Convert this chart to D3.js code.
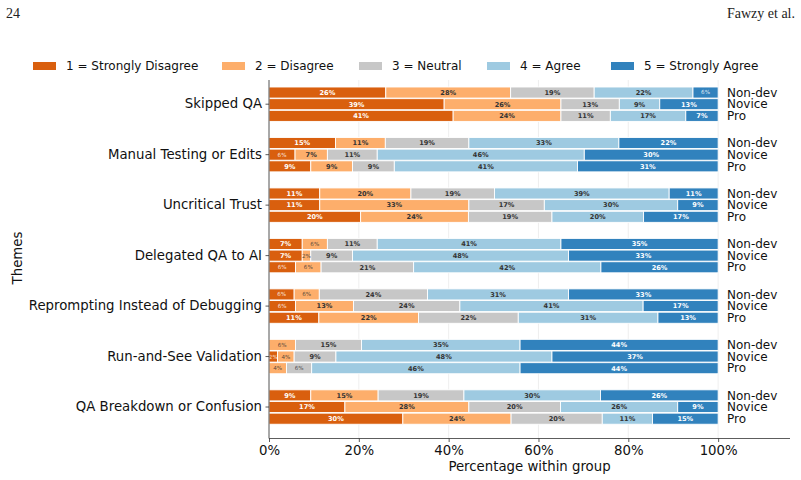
<!DOCTYPE html>
<html>
<head>
<meta charset="utf-8">
<script src="https://cdn.jsdelivr.net/npm/d3@7"></script>
<style>
  body { margin: 0; background: #fff; }
  svg { display: block; }
  text { font-family: "DejaVu Sans", sans-serif; }
</style>
</head>
<body>
<svg id="chart" width="801" height="480"></svg>
<script>
// ---------------- DATA ----------------
const themes = [
  "Skipped QA",
  "Manual Testing or Edits",
  "Uncritical Trust",
  "Delegated QA to AI",
  "Reprompting Instead of Debugging",
  "Run-and-See Validation",
  "QA Breakdown or Confusion"
];
const groups = ["Non-dev", "Novice", "Pro"];
const levels = ["1 = Strongly Disagree", "2 = Disagree", "3 = Neutral", "4 = Agree", "5 = Strongly Agree"];
const levelColors = ["#d95f0e", "#fdae6b", "#c7c7c7", "#9ecae1", "#3182bd"];
const xTicks = [0, 20, 40, 60, 80, 100];

// percentages per theme, per group (Non-dev, Novice, Pro), levels 1..5
const skippedQA = [
  [26.0, 27.8, 18.6, 22.0, 5.6],
  [39.0, 26.0, 13.0, 9.0, 13.0],
  [41.0, 24.0, 11.0, 16.8, 7.2]
];
const manualTesting = [
  [14.8, 11.1, 18.6, 33.4, 22.1],
  [5.8, 7.2, 11.1, 46.1, 29.8],
  [9.3, 9.3, 9.3, 40.8, 31.3]
];
const uncriticalTrust = [
  [11.3, 20.3, 18.6, 38.9, 10.9],
  [11.3, 33.2, 16.8, 29.7, 9.0],
  [20.4, 24.0, 18.6, 20.4, 16.6]
];
const delegatedQA = [
  [7.4, 5.6, 11.1, 40.9, 35.0],
  [7.4, 1.9, 9.3, 48.1, 33.3],
  [5.9, 5.7, 20.6, 41.7, 26.1]
];
const reprompting = [
  [5.6, 5.6, 24.1, 31.4, 33.3],
  [5.9, 12.9, 23.7, 40.8, 16.7],
  [11.1, 22.2, 22.2, 31.1, 13.4]
];
const runAndSee = [
  [0, 5.9, 14.7, 35.3, 44.1],
  [1.9, 3.7, 9.3, 48.1, 37.0],
  [0, 3.9, 5.6, 46.4, 44.1]
];
const qaBreakdown = [
  [9.3, 15.0, 19.1, 30.4, 26.2],
  [16.9, 27.6, 20.4, 26.1, 9.0],
  [29.8, 24.1, 20.3, 11.2, 14.6]
];
const themeValues = [skippedQA, manualTesting, uncriticalTrust, delegatedQA, reprompting, runAndSee, qaBreakdown];

// ---------------- LAYOUT ----------------
const svg = d3.select("#chart");
const plotLeft = 269, plotRight = 790, plotTop = 80, plotBottom = 438.5;
const x = d3.scaleLinear().domain([0, 116]).range([plotLeft, plotRight]);
const step = 50.47, c0 = 104.2;
const y = d3.scaleBand().domain(themes)
  .range([c0 - step / 2, c0 + step * 6 + step / 2]).padding(0);
const inner = d3.scaleBand().domain(groups).range([-17.5, 17.5]).padding(0);
const barH = inner.bandwidth() - 0.6;

// header
const headFont = "'Liberation Serif','DejaVu Serif',serif";
svg.append("text").attr("x", 6).attr("y", 18).attr("font-size", 14)
  .style("font-family", headFont)
  .attr("fill", "#222").text("24");
svg.append("text").attr("x", 795).attr("y", 18).attr("font-size", 14)
  .attr("text-anchor", "end")
  .style("font-family", headFont)
  .attr("fill", "#222").text("Fawzy et al.");

// gridlines
svg.append("g").selectAll("line").data(xTicks).join("line")
  .attr("x1", d => x(d)).attr("x2", d => x(d))
  .attr("y1", plotTop).attr("y2", plotBottom)
  .attr("stroke", "#ebebeb").attr("stroke-width", 0.8);

// bars
const rows = [];
themes.forEach((t, ti) => {
  groups.forEach((g, gi) => {
    let cum = 0;
    themeValues[ti][gi].forEach((v, li) => {
      rows.push({ theme: t, group: g, level: li, start: cum, value: v });
      cum += v;
    });
  });
});
const barG = svg.append("g");
barG.selectAll("rect").data(rows.filter(d => d.value > 0)).join("rect")
  .attr("x", d => x(d.start))
  .attr("width", d => x(d.start + d.value) - x(d.start))
  .attr("y", d => y(d.theme) + step / 2 + inner(d.group) + 0.3)
  .attr("height", barH)
  .attr("fill", d => levelColors[d.level])
  .attr("stroke", "#fff").attr("stroke-width", 0.9);

// bar labels
const darkText = [true, false, false, false, true];
barG.selectAll("text").data(rows.filter(d => d.value > 0)).join("text")
  .attr("x", d => x(d.start + d.value / 2))
  .attr("y", d => y(d.theme) + step / 2 + inner(d.group) + inner.bandwidth() / 2)
  .attr("dy", "0.35em")
  .attr("text-anchor", "middle")
  .attr("font-size", d => d.value < 6.5 ? 5.6 : 6.6)
  .attr("font-weight", d => d.value < 6.5 ? "normal" : "bold")
  .attr("fill", d => darkText[d.level] ? "#fff" : "#333")
  .attr("fill-opacity", d => d.value < 6.5 ? 0.85 : 1)
  .text(d => Math.round(d.value) + "%");

// group labels
const glG = svg.append("g");
themes.forEach(t => {
  groups.forEach(g => {
    glG.append("text")
      .attr("x", 727)
      .attr("y", y(t) + step / 2 + inner(g) + inner.bandwidth() / 2)
      .attr("dy", "0.35em")
      .attr("font-size", 12)
      .attr("fill", "#111")
      .text(g);
  });
});

// axes
const yAxis = d3.axisLeft(y).tickSize(3.5).tickPadding(3.5);
const yg = svg.append("g").attr("transform", `translate(${plotLeft},0)`).call(yAxis);
yg.select(".domain").remove();
yg.selectAll("text").attr("font-size", 13.3).attr("fill", "#111")
  .style("font-family", "'DejaVu Sans', sans-serif");
yg.selectAll("line").attr("stroke", "#333").attr("stroke-width", 0.8);

svg.append("line").attr("x1", plotLeft).attr("x2", plotLeft)
  .attr("y1", plotTop).attr("y2", plotBottom)
  .attr("stroke", "#333").attr("stroke-width", 0.8);

const xAxis = d3.axisBottom(x).tickValues(xTicks).tickFormat(d => d + "%")
  .tickSize(3.5).tickPadding(3.5);
const xg = svg.append("g").attr("transform", `translate(0,${plotBottom})`).call(xAxis);
xg.select(".domain").attr("stroke", "#333").attr("stroke-width", 0.8)
  .attr("d", `M${plotLeft},0H${plotRight}`);
xg.selectAll("text").attr("font-size", 13.3).attr("fill", "#111")
  .style("font-family", "'DejaVu Sans', sans-serif");
xg.selectAll("line").attr("stroke", "#333").attr("stroke-width", 0.8);

svg.append("text").attr("x", (plotLeft + plotRight) / 2).attr("y", 471)
  .attr("text-anchor", "middle").attr("font-size", 13.3).attr("fill", "#111")
  .text("Percentage within group");
svg.append("text").attr("transform", "translate(22,258) rotate(-90)")
  .attr("text-anchor", "middle").attr("font-size", 13.3).attr("fill", "#111")
  .text("Themes");

// legend
const legX = [33, 222, 359, 487, 611];
const leg = svg.append("g");
levels.forEach((l, i) => {
  leg.append("rect").attr("x", legX[i]).attr("y", 62).attr("width", 23).attr("height", 8)
    .attr("fill", levelColors[i]);
  leg.append("text").attr("x", legX[i] + 33).attr("y", 66).attr("dy", "0.35em")
    .attr("font-size", 12).attr("fill", "#111").text(l);
});
</script>
</body>
</html>
